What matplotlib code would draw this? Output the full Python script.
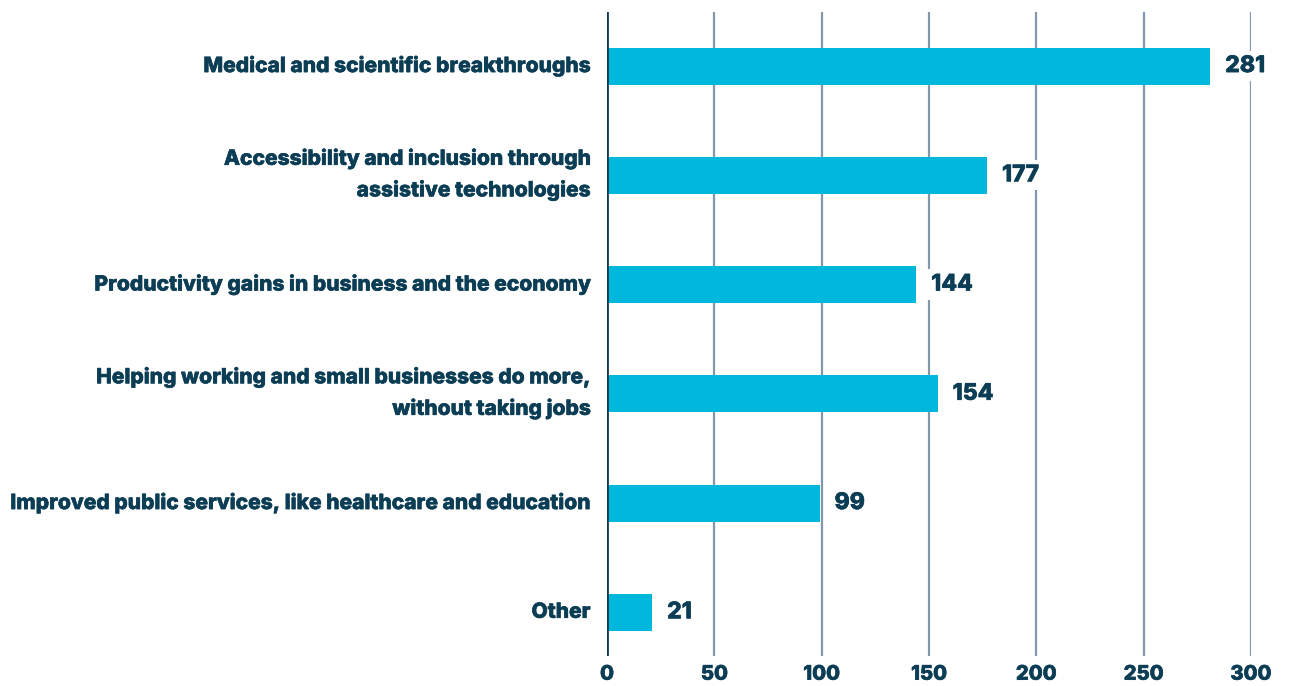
import matplotlib.pyplot as plt
import matplotlib.patheffects as pe
from matplotlib.transforms import ScaledTranslation

plt.rcParams['font.family'] = ['Inter', 'DejaVu Sans']

categories = [
    "Medical and scientific breakthroughs",
    "Accessibility and inclusion through\nassistive technologies",
    "Productivity gains in business and the economy",
    "Helping working and small businesses do more,\nwithout taking jobs",
    "Improved public services, like healthcare and education",
    "Other",
]
values = [281, 177, 144, 154, 99, 21]
ticks = [0, 50, 100, 150, 200, 250, 300]

navy = '#0b3d55'
bar_color = '#00b8dc'
grid_color = '#8198ac'
thick = [pe.withStroke(linewidth=0.4, foreground=navy)]

fig = plt.figure(figsize=(12.93, 6.86), dpi=100)
ax = fig.add_axes([0.4695, 0.0437, 0.4980, 0.9388])

pos = list(range(len(categories)))
ax.barh(pos, values, height=0.34, color=bar_color, zorder=3)

for x in ticks[1:]:
    ax.axvline(x, color=grid_color, lw=1.6, zorder=1)
ax.axvline(0, color=navy, lw=2, zorder=4)

for p, v in zip(pos, values):
    ax.text(v + 7, p, str(v), va='center', ha='left', fontsize=16.5,
            fontweight='heavy', color=navy, zorder=5, path_effects=thick,
            bbox=dict(facecolor='white', edgecolor='none', pad=3))

ax.set_xlim(0, 300)
ax.set_ylim(5.40, -0.495)
ax.set_xticks(ticks)
ax.set_xticklabels([str(t) for t in ticks], fontsize=14.5, fontweight='heavy',
                   color=navy, path_effects=thick)
ax.set_yticks(pos)
ax.set_yticklabels(categories, fontsize=15.1, fontweight='heavy', color=navy,
                   multialignment='right', linespacing=1.62, path_effects=thick)
ax.tick_params(axis='both', length=0)
ax.tick_params(axis='y', pad=12)
ax.tick_params(axis='x', pad=7)
for s in ax.spines.values():
    s.set_visible(False)

# nudge category labels up a little (two-line ones a bit more)
for lab, cat in zip(ax.get_yticklabels(), categories):
    dy = 0.085 if '\n' in cat else 0.025
    lab.set_transform(lab.get_transform() + ScaledTranslation(0, dy, fig.dpi_scale_trans))

fig.savefig('out.png', dpi=100, facecolor='white')
